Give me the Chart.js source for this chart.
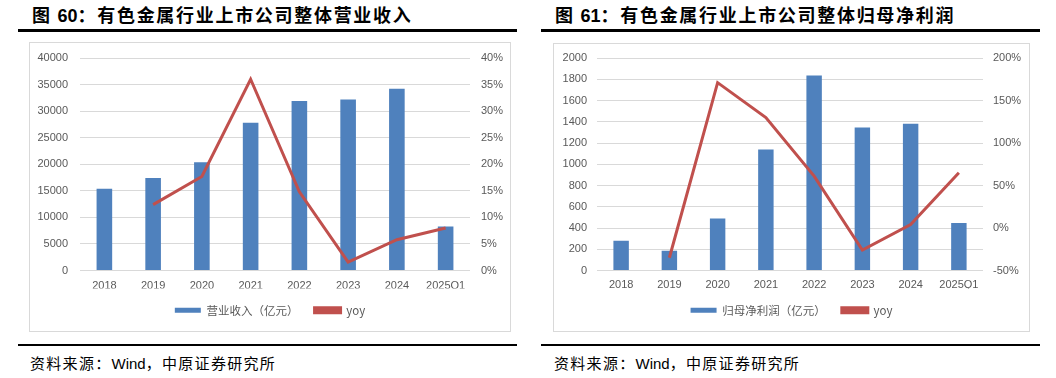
<!DOCTYPE html>
<html><head><meta charset="utf-8">
<script src="https://cdn.jsdelivr.net/npm/chart.js@4"></script>
<style>
html,body{margin:0;padding:0;background:#fff;width:1056px;height:378px;overflow:hidden;position:relative;}
.title{position:absolute;top:2px;font-family:"Noto Sans CJK SC";font-weight:bold;font-size:18px;color:#000;letter-spacing:1.7px;white-space:nowrap;line-height:24px;}
.title .n{font-family:"Liberation Sans";font-weight:bold;letter-spacing:0;}
.rule{position:absolute;height:3px;background:#000;}
.box{position:absolute;border:1px solid #d9d9d9;}
.box canvas{display:block;}
.src{position:absolute;top:352px;font-family:"Noto Sans CJK SC";font-size:15px;color:#000;letter-spacing:1.3px;white-space:nowrap;line-height:22px;}
.src .w{font-family:"Liberation Sans";letter-spacing:0;}
</style></head>
<body>
<div class="title" style="left:32px">图 <span class="n">60</span>：有色金属行业上市公司整体营业收入</div>
<div class="rule" style="left:18px;top:29px;width:499px"></div>
<div class="box" style="left:29px;top:42px;width:480px;height:288px"><canvas id="c1" width="480" height="288"></canvas></div>
<div class="rule" style="left:18px;top:344px;width:499px;height:2px"></div>
<div class="src" style="left:30px">资料来源：<span class="w">Wind</span>，中原证券研究所</div>

<div class="title" style="left:555px">图 <span class="n">61</span>：有色金属行业上市公司整体归母净利润</div>
<div class="rule" style="left:541px;top:29px;width:499px"></div>
<div class="box" style="left:553px;top:43px;width:475px;height:287px"><canvas id="c2" width="475" height="287"></canvas></div>
<div class="rule" style="left:541px;top:344px;width:499px;height:2px"></div>
<div class="src" style="left:554px">资料来源：<span class="w">Wind</span>，中原证券研究所</div>

<script>
const categories = ['2018','2019','2020','2021','2022','2023','2024','2025Q1'];
const revenue = [15400, 17400, 20400, 27800, 31900, 32200, 34200, 8300];
const revenueYoy = [null, 12.4, 17.7, 36.0, 14.8, 1.6, 5.8, 8.0];
const netProfit = [280, 185, 490, 1140, 1835, 1345, 1382, 447];
const netProfitYoy = [null, -35, 171, 130, 61, -26, 4, 65];
const revenueLabel = '营业收入（亿元）';
const profitLabel = '归母净利润（亿元）';
const yoyLabel = 'yoy';

const BLUE = '#4f81bd', RED = '#c0504d', GRID = '#d9d9d9', TXT = '#595959';
const tickFont = {family: 'Liberation Sans', size: 11};

function makeChart(id, bars, barLabel, yoy, cfg) {
  return new Chart(document.getElementById(id), {
    type: 'bar',
    data: {
      labels: categories,
      datasets: [
        {type: 'bar', label: barLabel, data: bars, backgroundColor: BLUE, borderWidth: 0,
         yAxisID: 'y', order: 1, barPercentage: 0.32, categoryPercentage: 1},
        {type: 'line', label: yoyLabel, data: yoy, borderColor: RED, backgroundColor: RED,
         borderWidth: 3, pointRadius: 0, tension: 0, yAxisID: 'y2', order: 0, spanGaps: false}
      ]
    },
    options: {
      responsive: false, animation: false,
      layout: {padding: {top: cfg.padTop, bottom: cfg.padBottom, left: 0, right: 0}},
      plugins: {
        tooltip: {enabled: false},
        legend: {
          position: 'bottom',
          labels: {color: TXT, font: {family: 'Noto Sans CJK SC', size: 11.5}, boxWidth: 26, boxHeight: 5,
                   padding: 16, sort: (a, b) => a.datasetIndex - b.datasetIndex}
        }
      },
      scales: {
        x: {
          grid: {display: false, drawTicks: false}, border: {display: false},
          ticks: {color: TXT, font: tickFont, padding: cfg.xPad, maxRotation: 0, autoSkip: false},
          afterFit: s => { s.height = cfg.xH; }
        },
        y: {
          position: 'left', min: cfg.yMin, max: cfg.yMax,
          grid: {color: GRID, lineWidth: 1, drawTicks: true, tickLength: cfg.yTick, tickColor: 'rgba(0,0,0,0)'},
          border: {display: false},
          ticks: {stepSize: cfg.yStep, color: TXT, font: tickFont, padding: 0, callback: v => String(v)},
          afterFit: s => { s.width = cfg.yW; }
        },
        y2: {
          position: 'right', min: cfg.y2Min, max: cfg.y2Max,
          grid: {display: false, drawTicks: true, tickLength: cfg.y2Tick}, border: {display: false},
          ticks: {stepSize: cfg.y2Step, color: TXT, font: tickFont, padding: 0,
                  callback: v => v + '%'},
          afterFit: s => { s.width = cfg.y2W; }
        }
      }
    }
  });
}

makeChart('c1', revenue, revenueLabel, revenueYoy, {
  padTop: 15, padBottom: 5, xPad: 9, xH: 18,
  yMin: 0, yMax: 40000, yStep: 5000, yTick: 12, yW: 50,
  y2Min: 0, y2Max: 40, y2Step: 5, y2Tick: 11, y2W: 40
});
makeChart('c2', netProfit, profitLabel, netProfitYoy, {
  padTop: 14, padBottom: 5, xPad: 8, xH: 18,
  yMin: 0, yMax: 2000, yStep: 200, yTick: 10, yW: 43,
  y2Min: -50, y2Max: 200, y2Step: 50, y2Tick: 10, y2W: 46
});
</script>
</body></html>
